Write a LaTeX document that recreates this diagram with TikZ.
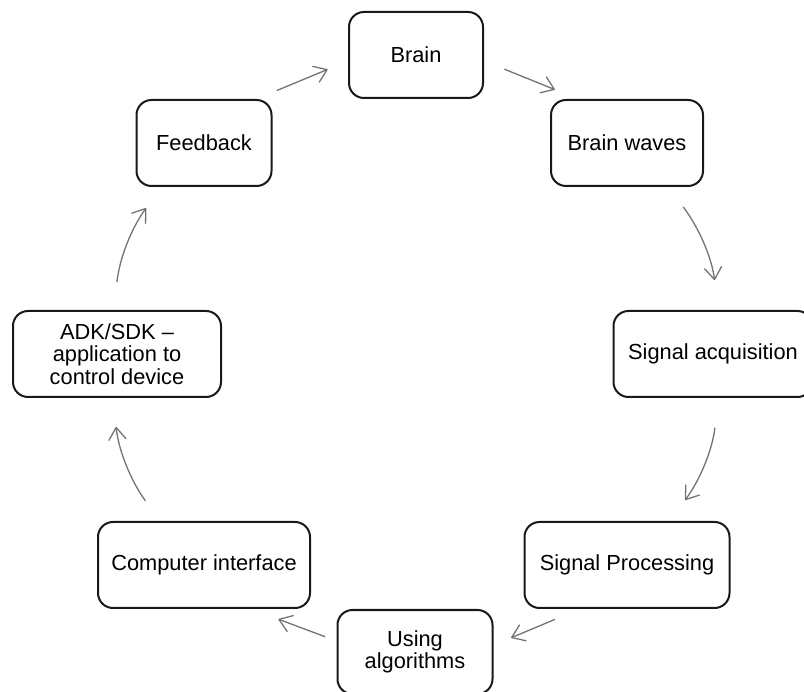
\documentclass[tikz,border=0pt]{standalone}
\usepackage{fontspec}
\setmainfont{Liberation Sans}
\usetikzlibrary{arrows.meta}
\tikzset{barb/.tip={Straight Barb[length=12pt, width=17pt, round]}}

\begin{document}
\begin{tikzpicture}[
    x=1pt, y=-1pt,
    stage/.style={
        draw=black!90,
        line width=2pt,
        rounded corners=15pt,
        align=center,
        inner sep=2pt,
        minimum height=86pt,
        font=\fontsize{21.8}{22.5}\selectfont
    },
    flow/.style={
        draw=black!55,
        line width=1.3pt,
        arrows={-barb}
    }
]

\useasboundingbox (0,0) rectangle (804,692);
\clip (0,0) rectangle (804,692);

% stages of the loop
\node[stage, minimum width=134pt] (brain) at (416,55) {Brain};
\node[stage, minimum width=152pt] (waves) at (627,143) {Brain waves};
\node[stage, minimum width=199pt] (acq) at (713,354) {Signal acquisition};
\node[stage, minimum width=205pt] (proc) at (627,565) {Signal Processing};
\node[stage, minimum width=155pt, minimum height=84pt] (algo) at (415,652) {Using\\algorithms};
\node[stage, minimum width=212pt] (comp) at (204,565) {Computer interface};
\node[stage, minimum width=208pt] (adk) at (117,354) {ADK/SDK --\\application to\\control device};
\node[stage, minimum width=135pt] (feed) at (204,143) {Feedback};

% arrows, clockwise
\draw[flow, shorten <=22pt, shorten >=22pt] (feed.40) to (brain.185);
\draw[flow, shorten <=22pt, shorten >=25pt] (brain.-5) to (waves.138);
\draw[flow, shorten <=25pt, shorten >=30pt] (waves.-47) to[bend left=15] (acq.83);
\draw[flow, shorten <=30pt, shorten >=26pt] (acq.-83) to[bend left=15] (proc.46);
\draw[flow, shorten <=27pt, shorten >=19pt] (proc.223) to (algo.5);
\draw[flow, shorten <=12pt, shorten >=29pt] (algo.172) to (comp.-43);
\draw[flow, shorten <=25pt, shorten >=29pt] (comp.135) to[bend left=15] (adk.-95);
\draw[flow, shorten <=28pt, shorten >=26pt] (adk.94) to[bend left=15] (feed.226);

\end{tikzpicture}
\end{document}
